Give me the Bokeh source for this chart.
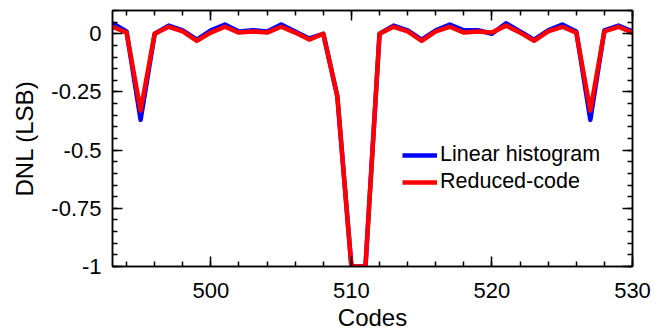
from bokeh.plotting import figure
from bokeh.models import (LinearAxis, FixedTicker, Range1d, Legend, LegendItem)
from bokeh.embed import file_html
from bokeh.resources import INLINE

codes = [493, 494, 495, 496, 497, 498, 499, 500, 501, 502, 503, 504, 505, 506,
         507, 508, 509, 510, 511, 512, 513, 514, 515, 516, 517, 518, 519, 520,
         521, 522, 523, 524, 525, 526, 527, 528, 529, 530]

linear_hist = [0.045, 0.01, -0.37, 0.0, 0.035, 0.015, -0.025, 0.015, 0.04, 0.01,
               0.015, 0.01, 0.04, 0.01, -0.02, 0.0, -0.27, -1.0, -1.0, 0.0,
               0.035, 0.015, -0.025, 0.015, 0.04, 0.015, 0.015, 0.0, 0.045, 0.01,
               -0.025, 0.015, 0.04, 0.01, -0.37, 0.015, 0.035, 0.01]

reduced_code = [0.03, 0.005, -0.33, 0.0, 0.03, 0.01, -0.03, 0.005, 0.03, 0.005,
                0.01, 0.005, 0.03, 0.005, -0.025, 0.0, -0.27, -1.0, -1.0, 0.0,
                0.03, 0.01, -0.03, 0.01, 0.03, 0.005, 0.01, 0.005, 0.035, 0.005,
                -0.03, 0.01, 0.03, 0.005, -0.33, 0.01, 0.03, 0.005]

x_ticks = [500, 510, 520, 530]
x_tick_labels = ["500", "510", "520", "530"]
x_minor = [494, 496, 498, 500, 502, 504, 506, 508, 510, 512, 514, 516, 518, 520,
           522, 524, 526, 528, 530]
y_ticks = [0, -0.25, -0.5, -0.75, -1]
y_tick_labels = ["0", "-0.25", "-0.5", "-0.75", "-1"]
y_minor = [0.1, 0.05, 0, -0.05, -0.1, -0.15, -0.2, -0.25, -0.3, -0.35, -0.4, -0.45,
           -0.5, -0.55, -0.6, -0.65, -0.7, -0.75, -0.8, -0.85, -0.9, -0.95, -1]

FONT = "Liberation Sans"
TICK_FS = "22px"
LABEL_FS = "24px"

p = figure(width=660, height=333, x_range=Range1d(493, 530), y_range=Range1d(-1, 0.1),
           output_backend="svg", toolbar_location=None,
           min_border_left=112, min_border_right=28, min_border_top=10, min_border_bottom=65)
p.grid.visible = False
p.outline_line_color = "black"
p.outline_line_width = 1.5
p.background_fill_color = "white"
p.border_fill_color = "white"

xt = FixedTicker(ticks=x_ticks, minor_ticks=x_minor)
yt = FixedTicker(ticks=y_ticks, minor_ticks=y_minor)


def style(ax, labels=True):
    ax.major_tick_in = 10
    ax.major_tick_out = 0
    ax.minor_tick_in = 5
    ax.minor_tick_out = 0
    ax.axis_line_width = 1.5
    ax.major_tick_line_width = 1.5
    ax.minor_tick_line_width = 1.5
    ax.axis_line_color = "black"
    ax.major_tick_line_color = "black"
    ax.minor_tick_line_color = "black"
    ax.major_label_text_font = FONT
    ax.major_label_text_font_size = TICK_FS
    ax.major_label_text_color = "black"
    ax.axis_label_text_font = FONT
    ax.axis_label_text_font_size = LABEL_FS
    ax.axis_label_text_font_style = "normal"
    ax.axis_label_text_color = "black"
    if not labels:
        ax.major_label_text_font_size = "0px"
        ax.major_label_text_color = None
        ax.major_label_standoff = 0


xa = p.xaxis[0]
xa.ticker = xt
xa.major_label_overrides = dict(zip(x_ticks, x_tick_labels))
xa.axis_label = "Codes"
style(xa)
xa.major_label_standoff = 16
xa.axis_label_standoff = 3

ya = p.yaxis[0]
ya.ticker = yt
ya.major_label_overrides = dict(zip(y_ticks, y_tick_labels))
ya.axis_label = "DNL (LSB)"
style(ya)
ya.major_label_standoff = 11
ya.axis_label_standoff = 10

top = LinearAxis(ticker=FixedTicker(ticks=x_ticks, minor_ticks=x_minor))
style(top, labels=False)
p.add_layout(top, "above")
right = LinearAxis(ticker=FixedTicker(ticks=y_ticks, minor_ticks=y_minor))
style(right, labels=False)
p.add_layout(right, "right")

rb = p.line(codes, linear_hist, line_color="#0000ff", line_width=4.5, line_join="round")
rr = p.line(codes, reduced_code, line_color="#ff0000", line_width=4.5, line_join="round")

legend = Legend(items=[LegendItem(label="Linear histogram", renderers=[rb]),
                       LegendItem(label="Reduced-code", renderers=[rr])],
                location=(290, 72), border_line_color=None, background_fill_alpha=0,
                padding=0, margin=0, spacing=2, glyph_width=35, glyph_height=20,
                label_height=20, label_standoff=3, label_text_font=FONT,
                label_text_font_size="21.5px", label_text_color="black")
p.add_layout(legend)

open("out.html", "w").write(file_html(p, INLINE))
